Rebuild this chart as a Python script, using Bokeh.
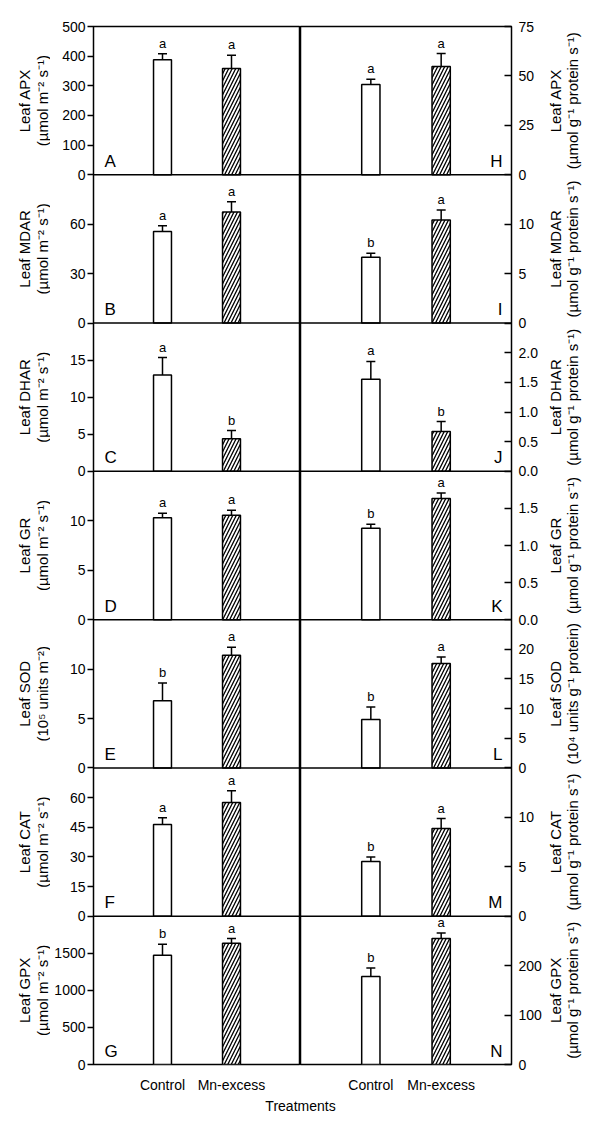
import math
from bokeh.plotting import figure
from bokeh.layouts import gridplot, column
from bokeh.models import (FixedTicker, Whisker, TeeHead, ColumnDataSource, Range1d, Span)
from bokeh.core.properties import value
from bokeh.embed import file_html
from bokeh.resources import INLINE

FONT = "Liberation Sans"

# ---------------- data ----------------
treatments = ["Control", "Mn-excess"]
x_title = "Treatments"
enzymes = ["APX", "MDAR", "DHAR", "GR", "SOD", "CAT", "GPX"]
left_panel_letters = ["A", "B", "C", "D", "E", "F", "G"]
right_panel_letters = ["H", "I", "J", "K", "L", "M", "N"]

left_units = ["(µmol m⁻² s⁻¹)", "(µmol m⁻² s⁻¹)", "(µmol m⁻² s⁻¹)", "(µmol m⁻² s⁻¹)",
              "(10⁵ units m⁻²)", "(µmol m⁻² s⁻¹)", "(µmol m⁻² s⁻¹)"]
right_units = ["(µmol g⁻¹ protein s⁻¹)", "(µmol g⁻¹ protein s⁻¹)", "(µmol g⁻¹ protein s⁻¹)",
               "(µmol g⁻¹ protein s⁻¹)", "(10⁴ units g⁻¹ protein)", "(µmol g⁻¹ protein s⁻¹)",
               "(µmol g⁻¹ protein s⁻¹)"]

# per-area (left column)
left_control = [388, 55.6, 13.0, 10.3, 6.8, 46.4, 1475]
left_control_err = [20, 3.4, 2.35, 0.45, 1.8, 3.4, 147]
left_mn = [358, 67.4, 4.4, 10.57, 11.4, 57.5, 1635]
left_mn_err = [45, 6.2, 1.1, 0.5, 0.8, 5.9, 63]
left_sig_control = ["a", "a", "a", "a", "b", "a", "b"]
left_sig_mn = ["a", "a", "b", "a", "a", "a", "a"]
left_ymax = [500, 90, 20, 15, 15, 75, 2000]
left_ticks = [[0, 100, 200, 300, 400, 500], [0, 30, 60], [0, 5, 10, 15], [0, 5, 10],
              [0, 5, 10], [0, 15, 30, 45, 60], [0, 500, 1000, 1500]]
left_decimal = [False] * 7

# per-protein (right column)
right_control = [45.7, 6.67, 1.553, 1.232, 8.17, 5.54, 178]
right_control_err = [2.6, 0.4, 0.3, 0.055, 2.1, 0.44, 17]
right_mn = [54.8, 10.43, 0.67, 1.634, 17.6, 8.88, 255]
right_mn_err = [6.5, 1.0, 0.17, 0.075, 1.1, 1.0, 11]
right_sig_control = ["a", "b", "a", "b", "b", "b", "b"]
right_sig_mn = ["a", "a", "b", "a", "a", "a", "a"]
right_ymax = [75, 15, 2.5, 2.0, 25, 15, 300]
right_ticks = [[0, 25, 50, 75], [0, 5, 10], [0, 0.5, 1.0, 1.5, 2.0], [0, 0.5, 1.0, 1.5],
               [0, 5, 10, 15, 20], [0, 5, 10], [0, 100, 200]]
right_decimal = [False, False, True, True, False, False, False]

NP = len(enzymes)
TOP = 26
FRAME_H = 1044
BOTTOM = 25
H = TOP + FRAME_H + BOTTOM

LAB_L_W = 50
LEFT_BORDER = 43
LEFT_FRAME = 207
RIGHT_FRAME = 211
RIGHT_BORDER = 34
LAB_R_W = 40


def column_figure(side):
    is_left = side == "left"
    if is_left:
        ctrl_v, ctrl_e, mn_v, mn_e = left_control, left_control_err, left_mn, left_mn_err
        sig_c, sig_m = left_sig_control, left_sig_mn
        ymaxs, tickss, dec, letters = left_ymax, left_ticks, left_decimal, left_panel_letters
        bl, br, fw = LEFT_BORDER, 0, LEFT_FRAME
    else:
        ctrl_v, ctrl_e, mn_v, mn_e = right_control, right_control_err, right_mn, right_mn_err
        sig_c, sig_m = right_sig_control, right_sig_mn
        ymaxs, tickss, dec, letters = right_ymax, right_ticks, right_decimal, right_panel_letters
        bl, br, fw = 0, RIGHT_BORDER, RIGHT_FRAME

    p = figure(width=fw + bl + br, height=H,
               x_range=(0, 3), y_range=Range1d(0, NP),
               output_backend="svg", toolbar_location=None,
               x_axis_location="below", y_axis_location=side,
               min_border_left=bl, min_border_right=br,
               min_border_top=TOP, min_border_bottom=BOTTOM)
    p.grid.visible = False
    p.outline_line_color = "black"
    p.outline_line_width = 1.5
    p.background_fill_color = "white"
    p.border_fill_color = "white"

    # one y-range per stacked panel: the panel's 0..ymax fills its own band
    ranges = {}
    for r in range(NP):
        k = NP - 1 - r
        ranges[f"p{r}"] = Range1d(start=-k * ymaxs[r], end=(NP - k) * ymaxs[r])
    p.extra_y_ranges = ranges

    tick_pos = []
    tick_lab = {}
    for r in range(NP):
        name = f"p{r}"
        k = NP - 1 - r
        ymax = ymaxs[r]
        src = ColumnDataSource(dict(
            x=[1, 2],
            top=[ctrl_v[r], mn_v[r]],
            up=[ctrl_v[r] + ctrl_e[r], mn_v[r] + mn_e[r]],
            hatch=[" ", "/"],
            sig=[sig_c[r], sig_m[r]],
        ))
        p.vbar(x="x", top="top", width=0.26, source=src, y_range_name=name,
               fill_color="white", line_color="black", line_width=1.5,
               hatch_pattern="hatch", hatch_color="black",
               hatch_scale=7, hatch_weight=1.3)
        p.add_layout(Whisker(source=src, base="x", lower="top", upper="up",
                             y_range_name=name, line_color="black", line_width=1.5,
                             upper_head=TeeHead(size=9, line_width=1.5, line_color="black"),
                             lower_head=None))
        p.text(x="x", y="up", text="sig", source=src, y_range_name=name, y_offset=-3,
               text_align="center", text_baseline="bottom",
               text_font=value(FONT), text_font_size="13px", text_color="black")
        lsrc = ColumnDataSource(dict(x=[0 if is_left else 3], y=[0], t=[letters[r]]))
        p.text(x="x", y="y", text="t", source=lsrc, y_range_name=name,
               x_offset=11 if is_left else -9, y_offset=-4,
               text_align="left" if is_left else "right", text_baseline="bottom",
               text_font=value(FONT), text_font_size="17px", text_color="black")
        if r < NP - 1:
            p.add_layout(Span(location=0, dimension="width", y_range_name=name,
                              line_color="black", line_width=1.5))
        # axis ticks of this panel, placed on the shared axis
        for t in tickss[r]:
            pos = k + t / ymax
            tick_pos.append(pos)
            tick_lab[pos] = f"{t:.1f}" if dec[r] else f"{t:g}"

    ax = p.yaxis[0]
    ax.ticker = FixedTicker(ticks=tick_pos, minor_ticks=[])
    ax.major_label_overrides = tick_lab
    ax.axis_line_color = None
    ax.minor_tick_line_color = None
    ax.major_tick_line_width = 1.5
    ax.major_tick_line_color = "black"
    ax.major_label_text_font = FONT
    ax.major_label_text_font_size = "14px"
    ax.major_label_text_color = "black"
    if is_left:
        ax.major_tick_out = 6
        ax.major_tick_in = 0
        ax.major_label_standoff = 2
    else:
        ax.major_tick_out = 0
        ax.major_tick_in = 7
        ax.major_label_standoff = 7

    xa = p.xaxis[0]
    xa.ticker = FixedTicker(ticks=[1, 2], minor_ticks=[])
    xa.major_label_overrides = {1: treatments[0], 2: treatments[1]}
    xa.axis_line_color = None
    xa.major_tick_line_color = None
    xa.minor_tick_line_color = None
    xa.major_label_standoff = 6
    xa.major_label_text_font = FONT
    xa.major_label_text_font_size = "14px"
    xa.major_label_text_color = "black"
    return p


def label_figure(side):
    """Two-line axis titles for the stacked panels, reading bottom to top."""
    is_left = side == "left"
    w = LAB_L_W if is_left else LAB_R_W
    units = left_units if is_left else right_units
    p = figure(width=w, height=H, x_range=(0, w), y_range=(0, NP),
               output_backend="svg", toolbar_location=None,
               x_axis_location=None, y_axis_location=None,
               min_border_left=0, min_border_right=0,
               min_border_top=TOP, min_border_bottom=BOTTOM)
    p.grid.visible = False
    p.outline_line_color = None
    p.background_fill_color = "white"
    p.border_fill_color = "white"
    src = ColumnDataSource(dict(
        x=[33 if is_left else 18.5] * NP,
        y=[NP - 1 - r + 0.5 for r in range(NP)],
        t=["Leaf " + enzymes[r] + "\n" + units[r] for r in range(NP)],
    ))
    p.text(x="x", y="y", text="t", source=src, angle=math.pi / 2,
           text_align="center", text_baseline="middle", text_line_height=1.05,
           text_font=value(FONT), text_font_size="15px", text_color="black")
    return p


grid = gridplot([[label_figure("left"), column_figure("left"),
                  column_figure("right"), label_figure("right")]],
                toolbar_location=None)

# common x-axis title, centred on the divider between the two columns
tfig = figure(width=600, height=20, output_backend="svg",
              toolbar_location=None, x_axis_location=None, y_axis_location=None,
              min_border_left=0, min_border_right=0,
              min_border_top=0, min_border_bottom=0,
              title=x_title, title_location="above")
tfig.outline_line_color = None
tfig.grid.visible = False
tfig.background_fill_alpha = 0
tfig.border_fill_alpha = 0
tfig.title.align = "center"
tfig.title.text_font = FONT
tfig.title.text_font_size = "14px"
tfig.title.text_font_style = "normal"
tfig.title.text_color = "black"
tfig.title.standoff = 0

layout = column(grid, tfig)

with open("out.html", "w") as f:
    f.write(file_html(layout, INLINE))
